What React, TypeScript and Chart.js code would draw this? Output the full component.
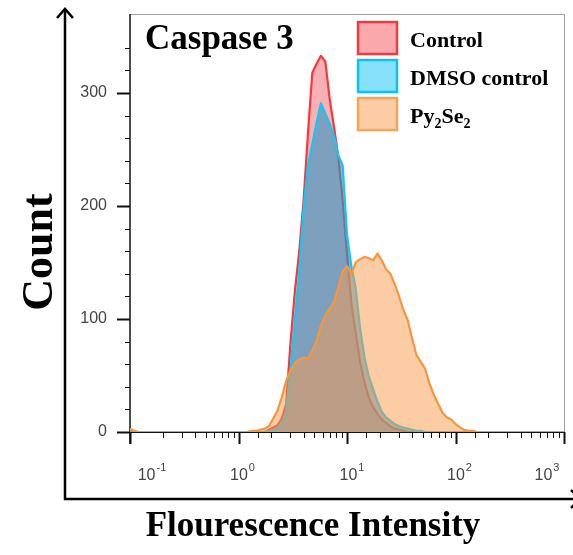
import React, { useEffect, useRef } from 'react';
import { Chart, registerables } from 'chart.js';

Chart.register(...registerables);

// Fluorescence intensity bins (channel values, log-spaced)
const intensity = [
  0.1, 0.11, 0.12,
  1.0, 1.1, 1.2, 1.32, 1.45, 1.58, 1.74, 1.91, 2.09, 2.29,
  2.51, 2.75, 3.02, 3.31, 3.63, 3.98, 4.37, 4.79, 5.25, 5.75,
  6.31, 6.92, 7.59, 8.32, 9.12, 10.0, 11.0, 12.0, 13.2, 14.5,
  15.8, 17.4, 19.1, 20.9, 22.9, 25.1, 27.5, 30.2, 33.1, 36.3,
  39.8, 43.7, 47.9, 52.5, 57.5, 63.1, 69.2, 75.9, 83.2, 91.2,
  100, 110, 120, 132, 145, 158, 174, 191, 209, 229,
  251, 1000,
];

const controlCounts = [
  0, 0, 0,
  0, 0, 0, 0, 0, 0, 0,
  2, 4, 6, 12, 25, 80, 125, 160, 205, 265,
  318, 326, 333, 328, 295, 270, 243, 205, 158, 113,
  88, 62, 44, 31, 22, 16, 11, 8, 5, 3,
  2, 1, 0,
  0, 0, 0, 0, 0, 0, 0, 0, 0, 0, 0, 0, 0, 0, 0, 0, 0, 0, 0, 0, 0,
  0,
];

const dmsoCounts = [
  2, 0, 0,
  0, 0, 0, 0, 0, 0, 0,
  1, 2, 4, 8, 18, 55, 100, 142, 198, 236,
  255, 274, 291, 282, 273, 262, 245, 236, 175, 146,
  128, 92, 66, 50, 38, 27, 18, 13, 10, 7,
  5, 4, 3, 2, 1, 1,
  0, 0, 0, 0, 0, 0, 0, 0, 0, 0, 0, 0, 0, 0, 0, 0, 0, 0,
  0,
];

const pyCounts = [
  3, 1, 0,
  0, 0, 0, 1, 1, 2, 3,
  5, 12, 19, 31, 45, 55, 61, 64, 66, 65,
  72, 81, 94, 103, 109, 115, 128, 142, 147, 140,
  150, 153, 155, 154, 152, 158, 152, 144, 140, 131,
  120, 108, 99, 83, 68, 62, 56, 43, 33, 25,
  17, 13, 11, 7, 4, 2, 1, 1,
  0, 0, 0, 0, 0, 0,
  0,
];

const seriesNames = ['Control', 'DMSO control', 'Py2Se2'];
const xTickValues = [0.1, 1, 10, 100, 1000];
const xTickExponents = ['-1', '0', '1', '2', '3'];
const yTickLabels = [0, 100, 200, 300];

const chartTitle = 'Caspase 3';
const xTitle = 'Flourescence Intensity';
const yTitle = 'Count';

const SERIF = '"Liberation Serif", "Times New Roman", serif';
const SANS = '"Liberation Sans", Arial, sans-serif';

const lineColors = ['rgb(250,55,60)', 'rgb(20,200,245)', 'rgb(247,150,60)'];
const fillColors = ['rgba(235,60,70,0.4)', 'rgba(44,149,196,0.6)', 'rgba(249,155,75,0.5)'];
const legendFills = ['rgb(250,168,172)', 'rgb(135,225,250)', 'rgb(252,205,165)'];
const legendBorders = ['rgb(240,60,65)', 'rgb(10,195,240)', 'rgb(245,165,90)'];
// horizontal shift of each decade label relative to its tick (layout only)
const xLabelShift = [22, 4, 5, 4, -17];

const toPoints = (counts: number[]) => intensity.map((x, i) => ({ x, y: counts[i] }));

const decorPlugin = {
  id: 'decor',
  beforeDraw(chart: any) {
    const ctx = chart.ctx;
    ctx.save();
    ctx.fillStyle = '#ffffff';
    ctx.fillRect(0, 0, chart.width, chart.height);
    ctx.restore();
  },
  beforeDatasetsDraw(chart: any) {
    const ctx = chart.ctx;
    const { left, right, top, bottom } = chart.chartArea;
    const xs = chart.scales.x;
    const ys = chart.scales.y;
    ctx.save();
    // light frame
    ctx.strokeStyle = '#a0a0a0';
    ctx.lineWidth = 1;
    ctx.beginPath();
    ctx.moveTo(left, top + 0.5);
    ctx.lineTo(right + 0.5, top + 0.5);
    ctx.lineTo(right + 0.5, bottom);
    ctx.stroke();
    // axis lines
    ctx.strokeStyle = '#111';
    ctx.lineWidth = 1.5;
    ctx.beginPath();
    ctx.moveTo(left, top);
    ctx.lineTo(left, bottom + 12);
    ctx.stroke();
    ctx.lineWidth = 1;
    ctx.beginPath();
    ctx.moveTo(left, bottom + 0.5);
    ctx.lineTo(right, bottom + 0.5);
    ctx.stroke();
    // x ticks
    for (const t of xs.ticks) {
      const v = t.value;
      const p = Math.round(xs.getPixelForValue(v)) + 0.5;
      const lg = Math.log10(v);
      const major = Math.abs(lg - Math.round(lg)) < 1e-6;
      ctx.lineWidth = major ? 2 : 1;
      ctx.beginPath();
      ctx.moveTo(p, bottom);
      ctx.lineTo(p, bottom + (major ? 12 : 6));
      ctx.stroke();
    }
    // y ticks
    for (const t of ys.ticks) {
      const v = t.value;
      if (v % 20 !== 0) continue;
      const p = Math.round(ys.getPixelForValue(v)) + 0.5;
      const major = v % 100 === 0;
      ctx.lineWidth = major ? 2 : 1;
      ctx.beginPath();
      ctx.moveTo(left, p);
      ctx.lineTo(left - (major ? 13 : 5), p);
      ctx.stroke();
    }
    // x decade labels: "10" with raised exponent
    ctx.fillStyle = '#444';
    ctx.textBaseline = 'alphabetic';
    ctx.textAlign = 'left';
    for (let i = 0; i < xTickValues.length; i++) {
      const p = xs.getPixelForValue(xTickValues[i]);
      ctx.font = `16px ${SANS}`;
      const wBase = ctx.measureText('10').width;
      ctx.font = `11px ${SANS}`;
      const wExp = ctx.measureText(xTickExponents[i]).width;
      const x0 = p + xLabelShift[i] - (wBase + wExp + 1) / 2;
      ctx.font = `16px ${SANS}`;
      ctx.fillText('10', x0, bottom + 48);
      ctx.font = `11px ${SANS}`;
      ctx.fillText(xTickExponents[i], x0 + wBase + 1, bottom + 39);
    }
    ctx.restore();
  },
  afterDraw(chart: any) {
    const ctx = chart.ctx;
    ctx.save();
    // outer arrow axes
    ctx.strokeStyle = '#000';
    ctx.lineWidth = 2.5;
    ctx.lineCap = 'butt';
    ctx.beginPath();
    ctx.moveTo(65, 9);
    ctx.lineTo(65, 499);
    ctx.lineTo(580, 499);
    ctx.stroke();
    ctx.beginPath();
    ctx.moveTo(57, 18);
    ctx.lineTo(65, 9);
    ctx.lineTo(73, 18);
    ctx.stroke();
    ctx.beginPath();
    ctx.moveTo(571, 490);
    ctx.lineTo(580, 499);
    ctx.lineTo(571, 508);
    ctx.stroke();

    ctx.fillStyle = '#000';
    // chart title inside plot
    ctx.font = `bold 35px ${SERIF}`;
    ctx.textAlign = 'left';
    ctx.textBaseline = 'alphabetic';
    ctx.fillText(chartTitle, 145, 49);

    // x title
    ctx.font = `bold 35px ${SERIF}`;
    ctx.textAlign = 'center';
    ctx.fillText(xTitle, 313, 536);

    // y title
    ctx.save();
    ctx.translate(52, 252);
    ctx.rotate(-Math.PI / 2);
    ctx.font = `bold 44px ${SERIF}`;
    ctx.textAlign = 'center';
    ctx.fillText(yTitle, 0, 0);
    ctx.restore();

    // legend
    const boxX = 358;
    const boxW = 39;
    const boxH = 32;
    const rowTops = [22, 60, 98];
    for (let i = 0; i < 3; i++) {
      const y0 = rowTops[i];
      ctx.fillStyle = legendFills[i];
      ctx.fillRect(boxX, y0, boxW, boxH);
      ctx.strokeStyle = legendBorders[i];
      ctx.lineWidth = 2.5;
      ctx.strokeRect(boxX, y0, boxW, boxH);
      ctx.fillStyle = '#000';
      ctx.textAlign = 'left';
      ctx.textBaseline = 'alphabetic';
      const base = y0 + boxH / 2 + 9;
      if (i < 2) {
        ctx.font = `bold 22px ${SERIF}`;
        ctx.fillText(seriesNames[i], 410, base);
      } else {
        let x = 410;
        const parts: [string, boolean][] = [['Py', false], ['2', true], ['Se', false], ['2', true]];
        for (const [s, sub] of parts) {
          ctx.font = sub ? `bold 14px ${SERIF}` : `bold 22px ${SERIF}`;
          ctx.fillText(s, x, sub ? base + 5 : base);
          x += ctx.measureText(s).width;
        }
      }
    }
    ctx.restore();
  },
};

export default function App() {
  const ref = useRef<HTMLCanvasElement>(null);
  useEffect(() => {
    if (!ref.current) return;
    const datasets = [controlCounts, dmsoCounts, pyCounts].map((counts, i) => ({
      label: seriesNames[i],
      data: toPoints(counts),
      borderColor: lineColors[i],
      backgroundColor: fillColors[i],
      borderWidth: 2.2,
      pointRadius: 0,
      tension: 0,
      fill: 'origin',
      borderJoinStyle: 'round' as const,
      order: 3 - i,
    }));
    const chart = new Chart(ref.current, {
      type: 'line',
      data: { datasets },
      options: {
        responsive: false,
        maintainAspectRatio: false,
        devicePixelRatio: 1,
        animation: false,
        layout: { padding: { left: 0, right: 9, top: 14, bottom: 0 } },
        plugins: {
          legend: { display: false },
          tooltip: { enabled: false },
          title: { display: false },
        },
        scales: {
          x: {
            type: 'logarithmic',
            position: 'bottom',
            min: 0.1,
            max: 1000,
            grid: { display: false, drawTicks: false },
            border: { display: false },
            ticks: { display: false, autoSkip: false },
            afterFit: (s: any) => {
              s.height = 123;
              s.paddingLeft = 0;
              s.paddingRight = 0;
            },
          },
          y: {
            type: 'linear',
            min: 0,
            max: 370,
            grid: { display: false, drawTicks: true, tickLength: 13 },
            border: { display: false },
            ticks: {
              stepSize: 20,
              autoSkip: false,
              padding: 10,
              color: '#444',
              font: { family: SANS, size: 16 },
              callback: (value: any) => (yTickLabels.includes(Number(value)) ? String(value) : ''),
            },
            afterFit: (s: any) => {
              s.width = 130;
              s.paddingTop = 0;
              s.paddingBottom = 0;
            },
          },
        },
      } as any,
      plugins: [decorPlugin],
    });
    return () => chart.destroy();
  }, []);
  return (
    <div style={{ position: 'absolute', left: 0, top: 0, width: 573, height: 555 }}>
      <canvas ref={ref} width={573} height={555} style={{ display: 'block', width: 573, height: 555 }} />
    </div>
  );
}
